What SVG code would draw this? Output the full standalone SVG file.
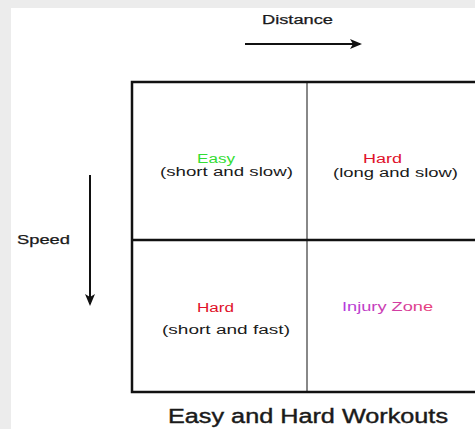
<svg xmlns="http://www.w3.org/2000/svg" width="475" height="429" viewBox="0 0 475 429">
<defs>
<style>
.t{font-family:"Liberation Sans",Arial,sans-serif;fill:#1a1a1a}
.s{font-size:12.5px;stroke:#1a1a1a;stroke-width:0.25}
.c{font-size:12.5px}
.arrow{stroke:#111;stroke-width:2;fill:none}
</style>
<marker id="ah" viewBox="0 0 12 10" refX="10" refY="5" markerWidth="12" markerHeight="10" markerUnits="userSpaceOnUse" orient="auto">
<path d="M0,0 L12,5 L0,10 L3,5 Z" fill="#111"/>
</marker>
<linearGradient id="inj" x1="0" y1="0" x2="1" y2="0">
<stop offset="0" stop-color="#b23be0"/>
<stop offset="1" stop-color="#e8407a"/>
</linearGradient>
</defs>
<rect x="0" y="0" width="475" height="429" fill="#ececec"/>
<rect x="11" y="8" width="464" height="421" fill="#fff"/>
<g id="axes">
<text id="distance-label" class="t s" x="262" y="24" textLength="71" lengthAdjust="spacingAndGlyphs">Distance</text>
<line class="arrow" x1="245" y1="44" x2="360" y2="44" marker-end="url(#ah)"/>
<text id="speed-label" class="t s" x="17" y="244" textLength="53" lengthAdjust="spacingAndGlyphs">Speed</text>
<line class="arrow" x1="90" y1="175" x2="90" y2="304" marker-end="url(#ah)"/>
</g>
<g id="grid">
<line x1="307" y1="82" x2="307" y2="392" stroke="#888" stroke-width="2"/>
<line x1="132" y1="240" x2="475" y2="240" stroke="#111" stroke-width="2.5"/>
<path d="M475,82 H132 V392 H475" fill="none" stroke="#111" stroke-width="2.5"/>
</g>
<g id="cell-easy">
<text class="t c" x="197" y="163" textLength="38" lengthAdjust="spacingAndGlyphs" style="fill:#33dd33">Easy</text>
<text class="t c" x="160" y="176" textLength="133" lengthAdjust="spacingAndGlyphs">(short and slow)</text>
</g>
<g id="cell-hard-long">
<text class="t c" x="363" y="163" textLength="39" lengthAdjust="spacingAndGlyphs" style="fill:#e0102a">Hard</text>
<text class="t c" x="333" y="177" textLength="125" lengthAdjust="spacingAndGlyphs">(long and slow)</text>
</g>
<g id="cell-hard-short">
<text class="t c" x="197" y="312" textLength="37" lengthAdjust="spacingAndGlyphs" style="fill:#e0102a">Hard</text>
<text class="t c" x="162" y="334" textLength="128" lengthAdjust="spacingAndGlyphs">(short and fast)</text>
</g>
<g id="cell-injury">
<text class="t c" x="342" y="311" textLength="91" lengthAdjust="spacingAndGlyphs" style="fill:url(#inj)">Injury Zone</text>
</g>
<text id="title" class="t" x="168" y="423" font-size="20" stroke="#1a1a1a" stroke-width="0.4" textLength="280" lengthAdjust="spacingAndGlyphs">Easy and Hard Workouts</text>
</svg>
